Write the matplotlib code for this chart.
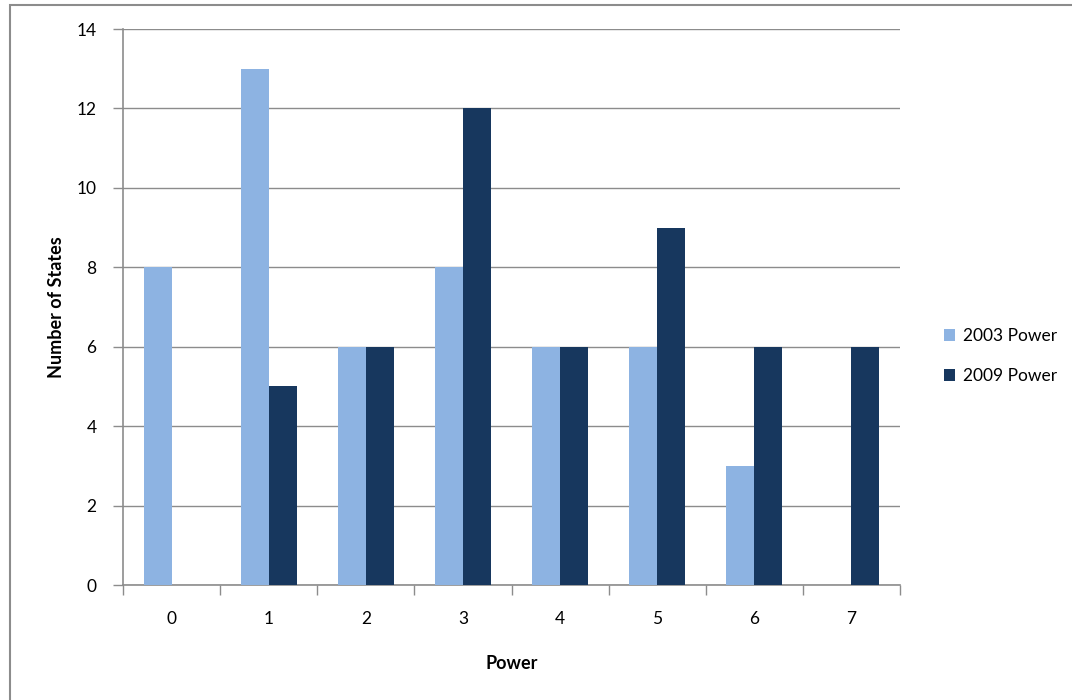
import numpy as np
import matplotlib
matplotlib.use('Agg')
import matplotlib.pyplot as plt
from matplotlib.patches import Rectangle

# Data
powers = ['0', '1', '2', '3', '4', '5', '6', '7']
power_2003 = [8, 13, 6, 8, 6, 6, 3, 0]
power_2009 = [0, 5, 6, 12, 6, 9, 6, 6]
series_names = ['2003 Power', '2009 Power']

light = '#8DB3E2'
dark = '#17375E'
grid_col = '#8C8C8C'

plt.rcParams['font.family'] = ['Lato', 'DejaVu Sans']

fig = plt.figure(figsize=(10.72, 7.0), dpi=100)
ax = fig.add_axes([123/1072, 1 - 585/700, (900 - 123)/1072, (585 - 29)/700])

x = np.arange(len(powers))
w = 0.288
b1 = ax.bar(x - w/2, power_2003, w, color=light, label=series_names[0], zorder=3)
b2 = ax.bar(x + w/2, power_2009, w, color=dark, label=series_names[1], zorder=3)

ax.set_xlim(-0.5, len(powers) - 0.5)
ax.set_ylim(0, 14)
ax.set_yticks(range(0, 15, 2))
ax.yaxis.grid(True, color=grid_col, linewidth=1.0, zorder=0)
ax.set_axisbelow(True)

# category boundary ticks, labels in between
ax.set_xticks(np.arange(-0.5, len(powers), 1.0))
ax.set_xticklabels([])
ax.set_xticks(x, minor=True)
ax.set_xticklabels(powers, minor=True)
ax.tick_params(axis='x', which='major', length=7, width=1, color=grid_col)
ax.tick_params(axis='x', which='minor', length=0, pad=19, labelsize=12.5)
ax.tick_params(axis='y', length=7, width=1, color=grid_col, labelsize=12.5, pad=12)

for s in ['top', 'right']:
    ax.spines[s].set_visible(False)
for s in ['left', 'bottom']:
    ax.spines[s].set_color(grid_col)
    ax.spines[s].set_linewidth(1.2)

ax.set_xlabel('Power', fontsize=13, fontweight='bold', labelpad=20)
ax.set_ylabel('Number of States', fontsize=13, fontweight='bold', labelpad=8)

fig.legend(handles=[b1, b2], labels=series_names, loc='center left',
           bbox_to_anchor=(928/1072, 1 - 356/700), frameon=False,
           fontsize=12.5, handlelength=0.65, handleheight=0.65,
           handletextpad=0.45, labelspacing=1.4)

# outer chart border
fig.patches.append(Rectangle((10/1072, -0.05), 1.1, 1 - 5/700 + 0.05,
                             transform=fig.transFigure, fill=False,
                             edgecolor='#8C8C8C', linewidth=1.5))

fig.savefig('out.png', dpi=100)
